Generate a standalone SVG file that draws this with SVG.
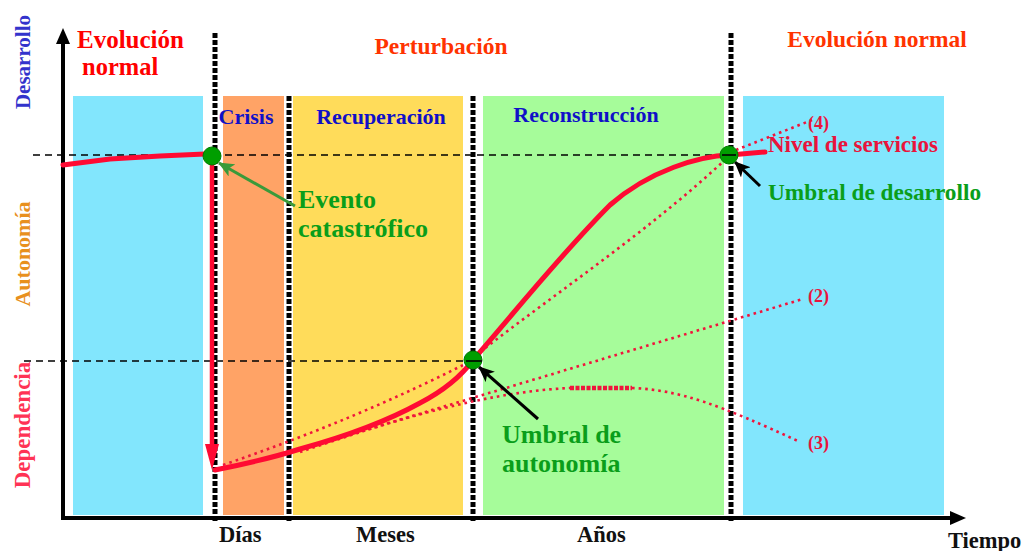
<svg xmlns="http://www.w3.org/2000/svg" width="1024" height="551" viewBox="0 0 1024 551">
<defs>
<style>
text{font-family:"Liberation Serif","DejaVu Serif","Times New Roman",serif;font-weight:bold}
.ph{font-size:22px;fill:#1010C8}
.big{font-size:26px}
.grn{fill:#0A9E1A}
.num{font-size:18px;fill:#E8143C}
.ax{font-size:22.5px;fill:#111}
.vd{stroke:#000;stroke-width:5;stroke-dasharray:5 2;fill:none}
.hd{stroke:#000;stroke-width:1.6;stroke-dasharray:7 5;fill:none}
.dot{stroke:#F0143C;stroke-width:2.6;stroke-dasharray:2.6 4;fill:none}
.sol{stroke:#FF0A33;stroke-width:5;fill:none;stroke-linejoin:round;stroke-linecap:round}
.pt{fill:#009E00;stroke:#007A00;stroke-width:1}
</style>
<marker id="ahg" markerWidth="16" markerHeight="14" refX="15" refY="7" orient="auto" markerUnits="userSpaceOnUse" viewBox="0 0 16 14"><path d="M0,0 L16,7 L0,14 L4,7 z" fill="#3A9A3A"/></marker>
<marker id="ahk" markerWidth="16" markerHeight="14" refX="15" refY="7" orient="auto" markerUnits="userSpaceOnUse" viewBox="0 0 16 14"><path d="M0,0 L16,7 L0,14 L4,7 z" fill="#000"/></marker>
</defs>
<rect width="1024" height="551" fill="#fff"/>
<g id="bands">
<rect x="73" y="96" width="130" height="419" fill="#82E6FD"/>
<rect x="223" y="96" width="61" height="419" fill="#FFA366"/>
<rect x="293" y="96" width="170" height="419" fill="#FFDC5A"/>
<rect x="483" y="96" width="241" height="419" fill="#A6FC9A"/>
<rect x="743" y="96" width="201" height="419" fill="#82E6FD"/>
</g>
<g id="axes">
<line x1="63" y1="519" x2="63" y2="42" stroke="#000" stroke-width="4"/>
<path d="M63,28 L70,44 L56,44 z" fill="#000"/>
<line x1="61" y1="518" x2="950" y2="518" stroke="#000" stroke-width="4"/>
<path d="M966,518 L950,511 L950,525 z" fill="#000"/>
</g>
<g id="gridlines">
<line class="vd" x1="215" y1="33" x2="215" y2="522"/>
<line class="vd" x1="289" y1="96" x2="289" y2="522"/>
<line class="vd" x1="473" y1="96" x2="473" y2="522"/>
<line class="vd" x1="731" y1="33" x2="731" y2="522"/>
<line class="hd" x1="33" y1="155" x2="735" y2="155"/>
<line class="hd" x1="24" y1="361" x2="476" y2="361"/>
</g>
<g id="connectors">
<path class="dot" d="M223,465 Q360,418 473,360"/>
<path class="dot" d="M480,352 C560,290 650,230 727,158"/>
<path class="dot" d="M736,150 L812,120"/>
<path class="dot" d="M292,452 L803,299"/>
<path class="dot" d="M300,452 C380,425 480,392 570,388"/>
<line x1="570" y1="388" x2="632" y2="388" stroke="#F0143C" stroke-width="4.5" stroke-dasharray="4 1.5"/>
<path class="dot" d="M632,388 C680,390 720,405 800,442"/>
<path class="sol" d="M63,165 L110,159 L160,156 L205,154"/>
<line x1="212" y1="158" x2="212" y2="448" stroke="#FF0A33" stroke-width="4.5"/>
<path d="M212,470 L205,444 L219,444 z" fill="#FF0A33"/>
<path class="sol" d="M215,470 C250,463 275,457 300,449 C340,438 380,425 420,403 C445,390 462,375 473,360 C510,318 560,255 610,205 C650,170 700,156 730,155 L765,152"/>
<line x1="295" y1="206" x2="219" y2="163" stroke="#3A9A3A" stroke-width="3" marker-end="url(#ahg)"/>
<line x1="538" y1="419" x2="479" y2="367" stroke="#000" stroke-width="3" marker-end="url(#ahk)"/>
<line x1="760" y1="186" x2="735" y2="162" stroke="#000" stroke-width="3" marker-end="url(#ahk)"/>
</g>
<g id="p1"><circle class="pt" cx="212" cy="156" r="9"/></g>
<g id="p2"><circle class="pt" cx="473" cy="360" r="9"/></g>
<g id="p3"><circle class="pt" cx="729" cy="155" r="9"/></g>
<line x1="466" y1="361" x2="482" y2="361" stroke="#000" stroke-width="1.6"/>
<line x1="722" y1="155" x2="736" y2="155" stroke="#000" stroke-width="1.6"/>
<g id="labels">
<text x="77" y="48" font-size="25" fill="#FF0000">Evolución</text>
<text x="82" y="75" font-size="24.5" fill="#FF0000">normal</text>
<text x="441" y="54" font-size="23.5" fill="#FF3300" text-anchor="middle">Perturbación</text>
<text x="877" y="47" font-size="23.5" fill="#FF3300" text-anchor="middle">Evolución normal</text>
<text class="ph" x="246" y="124" text-anchor="middle">Crisis</text>
<text class="ph" x="381" y="124" text-anchor="middle">Recuperación</text>
<text class="ph" x="586" y="122" text-anchor="middle">Reconstrucción</text>
<text x="768" y="152" font-size="23" fill="#E8143C">Nivel de servicios</text>
<text class="grn" x="768" y="200" font-size="23.3">Umbral de desarrollo</text>
<text class="big grn" x="298" y="208">Evento</text>
<text class="big grn" x="298" y="237">catastrófico</text>
<text class="big grn" x="502" y="443">Umbral de</text>
<text class="big grn" x="502" y="472">autonomía</text>
<text class="num" x="808" y="129">(4)</text>
<text class="num" x="808" y="302">(2)</text>
<text class="num" x="808" y="449">(3)</text>
<text class="ax" x="219" y="542">Días</text>
<text class="ax" x="356" y="542">Meses</text>
<text class="ax" x="577" y="542">Años</text>
<text class="ax" x="948" y="548">Tiempo</text>
<text x="0" y="0" font-size="21" fill="#3333CC" text-anchor="middle" transform="translate(30,62) rotate(-90)">Desarrollo</text>
<text x="0" y="0" font-size="22" fill="#E8901E" text-anchor="middle" transform="translate(30,254) rotate(-90)">Autonomía</text>
<text x="0" y="0" font-size="23" fill="#FF3355" text-anchor="middle" transform="translate(30,425) rotate(-90)">Dependencia</text>
</g>
</svg>
